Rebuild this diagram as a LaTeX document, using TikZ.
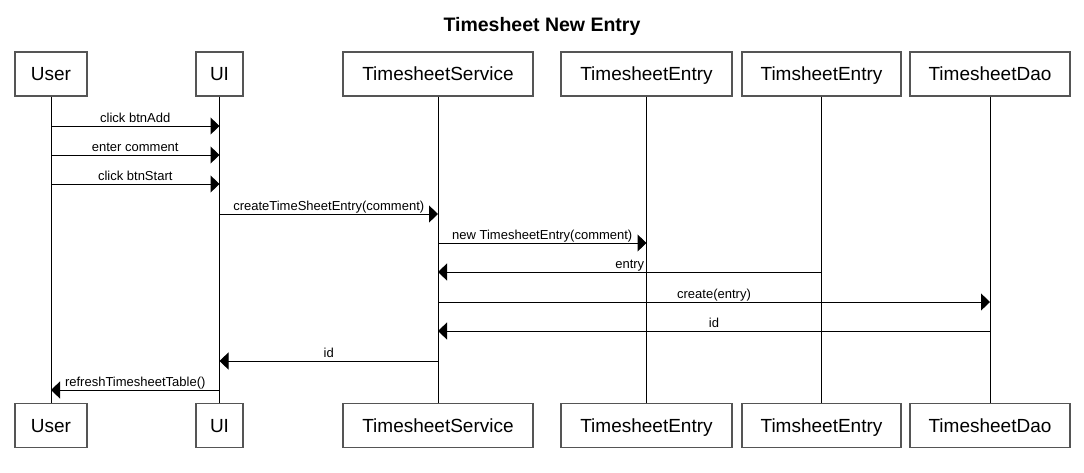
\documentclass[tikz,border=0pt]{standalone}
\usepackage{fontspec}
\setmainfont{Liberation Sans}
\usetikzlibrary{arrows.meta}
\begin{document}
\begin{tikzpicture}[x=1pt,y=-1pt,
  actor/.style={draw={rgb,255:red,85;green,85;blue,85}, line width=1.1pt, fill=white,
    minimum height=44pt, inner sep=0pt, text height=17.6pt, text depth=4pt,
    font=\fontsize{19}{22}\selectfont},
  life/.style={draw=black, line width=1pt},
  msg/.style={draw=black, line width=1pt, -{Triangle[length=9pt,width=17pt]}},
  lbl/.style={midway, anchor=base, yshift=4pt, inner sep=0pt, font=\fontsize{13}{15}\selectfont}
]
\useasboundingbox[fill=white] (0,0) rectangle (1084,472);
\node[anchor=base, font=\bfseries\fontsize{19.5}{22}\selectfont] (title) at (542,31) {Timesheet New Entry};

% top actors
\node[actor, minimum width=72pt]  (userT) at (51,74)    {User};
\node[actor, minimum width=47pt]  (uiT)   at (219.5,74) {UI};
\node[actor, minimum width=190pt] (tsT)   at (438,74)   {TimesheetService};
\node[actor, minimum width=171pt] (teT)   at (646.5,74) {TimesheetEntry};
\node[actor, minimum width=159pt] (tmT)   at (821.5,74) {TimsheetEntry};
\node[actor, minimum width=160pt] (daoT)  at (990,74)   {TimesheetDao};
% bottom actors
\node[actor, minimum width=72pt]  (userB) at (51,425.5)    {User};
\node[actor, minimum width=47pt]  (uiB)   at (219.5,425.5) {UI};
\node[actor, minimum width=190pt] (tsB)   at (438,425.5)   {TimesheetService};
\node[actor, minimum width=171pt] (teB)   at (646.5,425.5) {TimesheetEntry};
\node[actor, minimum width=159pt] (tmB)   at (821.5,425.5) {TimsheetEntry};
\node[actor, minimum width=160pt] (daoB)  at (990,425.5)   {TimesheetDao};

% lifelines
\foreach \a in {user,ui,ts,te,tm,dao}{
  \draw[life] (\a T.south) -- (\a B.north);
}

% messages
\draw[msg] (userT.south |- 0,126) -- node[lbl]{click btnAdd} (uiT.south |- 0,126);
\draw[msg] (userT.south |- 0,155) -- node[lbl]{enter comment} (uiT.south |- 0,155);
\draw[msg] (userT.south |- 0,184) -- node[lbl]{click btnStart} (uiT.south |- 0,184);
\draw[msg] (uiT.south |- 0,214) -- node[lbl]{createTimeSheetEntry(comment)} (tsT.south |- 0,214);
\draw[msg] (tsT.south |- 0,243) -- node[lbl]{new TimesheetEntry(comment)} (teT.south |- 0,243);
\draw[msg] (tmT.south |- 0,272) -- node[lbl]{entry} (tsT.south |- 0,272);
\draw[msg] (tsT.south |- 0,302) -- node[lbl]{create(entry)} (daoT.south |- 0,302);
\draw[msg] (daoT.south |- 0,331) -- node[lbl]{id} (tsT.south |- 0,331);
\draw[msg] (tsT.south |- 0,361) -- node[lbl]{id} (uiT.south |- 0,361);
\draw[msg] (uiT.south |- 0,390) -- node[lbl]{refreshTimesheetTable()} (userT.south |- 0,390);
\end{tikzpicture}
\end{document}
